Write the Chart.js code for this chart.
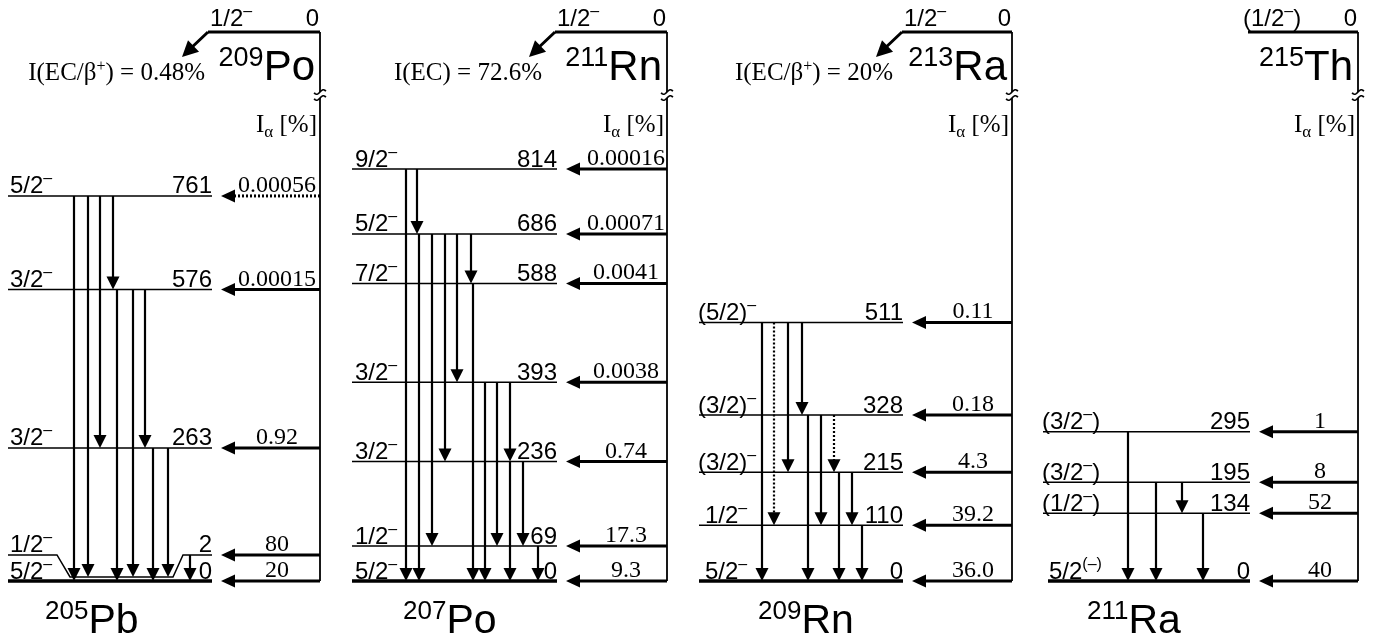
<!DOCTYPE html>
<html>
<head>
<meta charset="utf-8">
<script src="https://cdn.jsdelivr.net/npm/chart.js@4.4.1/dist/chart.umd.min.js"></script>
<style>
  html, body { margin: 0; padding: 0; background: #fff; }
  #wrap { width: 1379px; height: 644px; }
</style>
</head>
<body>
<div id="wrap"><canvas id="scheme"></canvas></div>
<script>
// daughter levels (keV), spins, alpha intensities (%) and gamma transitions [from, to]
const pbEnergies = [761, 576, 263, 2, 0];
const pbSpins = ["5/2^{–}", "3/2^{–}", "3/2^{–}", "1/2^{–}", "5/2^{–}"];
const pbAlpha = ["0.00056", "0.00015", "0.92", "80", "20"];
const pbGammas = [[761, 0], [761, 2], [761, 263], [761, 576], [576, 0], [576, 2], [576, 263], [263, 0], [263, 2], [2, 0]];
const pbWeakAlpha = [761];

const poEnergies = [814, 686, 588, 393, 236, 69, 0];
const poSpins = ["9/2^{–}", "5/2^{–}", "7/2^{–}", "3/2^{–}", "3/2^{–}", "1/2^{–}", "5/2^{–}"];
const poAlpha = ["0.00016", "0.00071", "0.0041", "0.0038", "0.74", "17.3", "9.3"];
const poGammas = [[814, 0], [814, 686], [686, 0], [686, 69], [686, 236], [686, 393], [686, 588], [588, 0], [393, 0], [393, 69], [393, 236], [236, 0], [236, 69], [69, 0]];

const rnEnergies = [511, 328, 215, 110, 0];
const rnSpins = ["(5/2)^{–}", "(3/2)^{–}", "(3/2)^{–}", "1/2^{–}", "5/2^{–}"];
const rnAlpha = ["0.11", "0.18", "4.3", "39.2", "36.0"];
const rnGammas = [[511, 0], [511, 110], [511, 215], [511, 328], [328, 0], [328, 110], [328, 215], [215, 0], [215, 110], [110, 0]];
const rnTentative = [[511, 110], [328, 215]];

const raEnergies = [295, 195, 134, 0];
const raSpins = ["(3/2^{–})", "(3/2^{–})", "(1/2^{–})", "5/2^{(–)}"];
const raAlpha = ["1", "8", "52", "40"];
const raGammas = [[295, 0], [195, 0], [195, 134], [134, 0]];

const parentNames = ["^{209}Po", "^{211}Rn", "^{213}Ra", "^{215}Th"];
const parentSpins = ["1/2^{–}", "1/2^{–}", "1/2^{–}", "(1/2^{–})"];
const ecBranches = ["I(EC/β^{+}) = 0.48%", "I(EC) = 72.6%", "I(EC/β^{+}) = 20%", null];
const daughterNames = ["^{205}Pb", "^{207}Po", "^{209}Rn", "^{211}Ra"];

const panels = [
  { energies: pbEnergies, spins: pbSpins, alpha: pbAlpha, gammas: pbGammas, tentative: [], weakAlpha: pbWeakAlpha, split: 2 },
  { energies: poEnergies, spins: poSpins, alpha: poAlpha, gammas: poGammas, tentative: [], weakAlpha: [] },
  { energies: rnEnergies, spins: rnSpins, alpha: rnAlpha, gammas: rnGammas, tentative: rnTentative, weakAlpha: [] },
  { energies: raEnergies, spins: raSpins, alpha: raAlpha, gammas: raGammas, tentative: [], weakAlpha: [] },
];

// layout (pixels on the x axis, which runs 0..W)
const W = 1379, H = 644;
const PX_PER_KEV = 0.506;
const GROUND_PX = 581;
const PARENT_PX = 32;
const BREAK_PX = 95;
const layout = [
  { left: 8, right: 212, vx: 320, parentLeft: 208, labelX: 10, alphaMid: 277, daughterX: 45, ecRight: 205,
    gammaX: [74, 88, 100, 113, 117, 133, 145, 153, 168, 190], bend: [57, 70, 173, 183] },
  { left: 352, right: 557, vx: 667, parentLeft: 555, labelX: 355, alphaMid: 626, daughterX: 403, ecRight: 542,
    gammaX: [406, 417, 419, 432, 445, 457, 471, 473, 485, 497, 510, 510, 523, 538] },
  { left: 699, right: 903, vx: 1012, parentLeft: 902, labelX: 705, alphaMid: 973, daughterX: 758, ecRight: 893,
    gammaX: [762, 774, 788, 802, 808, 821, 834, 839, 852, 862] },
  { left: 1043, groundLeft: 1048, right: 1250, vx: 1358, parentLeft: 1248, labelX: 1049, alphaMid: 1320, daughterX: 1087,
    gammaX: [1128, 1156, 1182, 1203] },
];
const SPLIT_LABEL_LIFT = 25, SPLIT_LINE_LIFT = 3;
const HEAD = { gLen: 13, gHalf: 6.5, aLen: 14, aHalf: 6.5, eLen: 16, eHalf: 8 };

const SANS = '"Liberation Sans", Arial, sans-serif';
const SERIF = '"Liberation Serif", "Times New Roman", serif';

const yMax = GROUND_PX / PX_PER_KEV;
const yMin = -(H - GROUND_PX) / PX_PER_KEV;
const parentE = yMax - PARENT_PX / PX_PER_KEV;
const lift = (e, px) => e + px / PX_PER_KEV;

// where a level is drawn: the 2 keV level of 205Pb is pulled apart from the ground state
function levelY(p, e, part) {
  if (p.split !== e) return e;
  return part === "line" ? lift(e, SPLIT_LINE_LIFT) : lift(e, SPLIT_LABEL_LIFT);
}

const levelPts = [], groundPts = [], parentPts = [], spinePts = [];
const gammaPts = [], gammaDotPts = [], alphaPts = [], alphaDotPts = [], ecPts = [];
function seg(arr, pts) {
  pts.forEach((q) => arr.push(q));
  arr.push({ x: pts[pts.length - 1].x, y: null });
}
const isTentative = (p, g) => p.tentative.some((t) => t[0] === g[0] && t[1] === g[1]);

panels.forEach((p, i) => {
  const L = layout[i];
  p.energies.forEach((e) => {
    if (e === 0) {
      seg(groundPts, [{ x: L.groundLeft || L.left, y: 0 }, { x: L.right, y: 0 }]);
    } else if (p.split === e) {
      const up = levelY(p, e, "label"), low = levelY(p, e, "line");
      seg(levelPts, [
        { x: L.left, y: up }, { x: L.bend[0], y: up }, { x: L.bend[1], y: low },
        { x: L.bend[2], y: low }, { x: L.bend[3], y: up }, { x: L.right, y: up },
      ]);
    } else {
      seg(levelPts, [{ x: L.left, y: e }, { x: L.right, y: e }]);
    }
    const ya = levelY(p, e, "label");
    const target = p.weakAlpha.includes(e) ? alphaDotPts : alphaPts;
    seg(target, [{ x: L.vx, y: ya }, { x: L.right + 9 + HEAD.aLen / 2, y: ya }]);
  });
  p.gammas.forEach((g, k) => {
    const x = L.gammaX[k];
    const y0 = levelY(p, g[0], "label");
    const y1 = levelY(p, g[1], "line");
    seg(isTentative(p, g) ? gammaDotPts : gammaPts, [{ x: x, y: y0 }, { x: x, y: lift(y1, HEAD.gLen / 2) }]);
  });
  seg(spinePts, [{ x: L.vx, y: parentE }, { x: L.vx, y: 0 }]);
  seg(parentPts, [{ x: L.parentLeft, y: parentE }, { x: L.vx, y: parentE }]);
  if (ecBranches[i]) {
    seg(ecPts, [{ x: L.parentLeft, y: parentE }, { x: L.parentLeft - 19, y: lift(parentE, -18) }]);
  }
});

function richText(ctx, str, x, y, o) {
  const parts = [];
  const re = /([\^_])\{([^}]*)\}/g;
  let last = 0, m;
  while ((m = re.exec(str))) {
    if (m.index > last) parts.push({ t: str.slice(last, m.index), k: "" });
    parts.push({ t: m[2], k: m[1] });
    last = re.lastIndex;
  }
  if (last < str.length) parts.push({ t: str.slice(last), k: "" });
  const font = (k) => (k ? o.small : o.size) + "px " + o.family;
  let total = 0;
  parts.forEach((q) => { ctx.font = font(q.k); q.w = ctx.measureText(q.t).width; total += q.w; });
  let cx = o.align === "right" ? x - total : o.align === "center" ? x - total / 2 : x;
  ctx.textAlign = "left";
  ctx.textBaseline = "alphabetic";
  parts.forEach((q) => {
    ctx.font = font(q.k);
    const dy = q.k === "^" ? -o.rise : q.k === "_" ? o.drop : 0;
    ctx.fillText(q.t, cx, y + dy);
    cx += q.w;
  });
}

function head(ctx, tx, ty, dx, dy, len, half) {
  const n = Math.hypot(dx, dy);
  const ux = dx / n, uy = dy / n;
  const bx = tx - ux * len, by = ty - uy * len;
  ctx.beginPath();
  ctx.moveTo(tx, ty);
  ctx.lineTo(bx - uy * half, by + ux * half);
  ctx.lineTo(bx + uy * half, by - ux * half);
  ctx.closePath();
  ctx.fill();
}

// axis break: gap in the alpha axis with two small tildes
function axisBreak(ctx, cx, cy) {
  ctx.fillStyle = "#fff";
  ctx.fillRect(cx - 3, cy - 3, 6, 6);
  ctx.fillStyle = "#000";
  ctx.lineWidth = 1.6;
  [-3, 3].forEach((d) => {
    ctx.beginPath();
    for (let t = -1; t <= 1.001; t += 0.1) {
      const x = cx + 6 * t;
      const y = cy + d - 1.8 * Math.sin(Math.PI * t) - 0.8 * t;
      if (t === -1) ctx.moveTo(x, y); else ctx.lineTo(x, y);
    }
    ctx.stroke();
  });
}

const LEVEL_TXT = { family: SANS, size: 24, small: 16, rise: 10 };
const SERIF_TXT = { family: SERIF, size: 24, small: 16, rise: 9, drop: 5 };
const NUCLIDE_TXT = { family: SANS, size: 42, small: 27, rise: 14 };

const schemeLabels = {
  id: "schemeLabels",
  afterDatasetsDraw(chart) {
    const ctx = chart.ctx;
    const px = (v) => chart.scales.x.getPixelForValue(v);
    const py = (v) => chart.scales.y.getPixelForValue(v);
    ctx.save();
    ctx.fillStyle = "#000";
    ctx.strokeStyle = "#000";
    panels.forEach((p, i) => {
      const L = layout[i];
      // levels: spin, energy, alpha feeding
      p.energies.forEach((e, k) => {
        const y = py(levelY(p, e, "label"));
        const sx = px(p.spins[k].startsWith("(") ? L.labelX - 7 : L.labelX);
        richText(ctx, p.spins[k], sx, y - 2.5, { ...LEVEL_TXT, align: "left" });
        richText(ctx, String(e), px(L.right), y - 2.5, { ...LEVEL_TXT, align: "right" });
        richText(ctx, p.alpha[k], px(L.alphaMid), y - 4, { ...SERIF_TXT, align: "center" });
        head(ctx, px(L.right + 9), y, -1, 0, HEAD.aLen, HEAD.aHalf);
      });
      // gamma arrowheads
      p.gammas.forEach((g, k) => {
        head(ctx, px(L.gammaX[k]), py(levelY(p, g[1], "line")), 0, 1, HEAD.gLen, HEAD.gHalf);
      });
      // parent
      const yp = py(parentE);
      richText(ctx, parentSpins[i], px(parentSpins[i].startsWith("(") ? L.parentLeft - 5 : L.parentLeft + 2), yp - 6, { ...LEVEL_TXT, align: "left" });
      richText(ctx, "0", px(L.vx - 1), yp - 6, { ...LEVEL_TXT, align: "right" });
      richText(ctx, parentNames[i], px(L.vx - 5), 80, { ...NUCLIDE_TXT, align: "right" });
      if (ecBranches[i]) {
        head(ctx, px(L.parentLeft - 26), py(lift(parentE, -25)), -26, 25, HEAD.eLen, HEAD.eHalf);
        richText(ctx, ecBranches[i], px(L.ecRight), 80, { ...SERIF_TXT, size: 25, align: "right" });
      }
      axisBreak(ctx, px(L.vx), BREAK_PX);
      richText(ctx, "I_{α} [%]", px(L.vx - 3), 132, { ...SERIF_TXT, size: 25, small: 17, align: "right" });
      richText(ctx, daughterNames[i], px(L.daughterX), 633, { ...NUCLIDE_TXT, size: 41, small: 26, align: "left" });
    });
    ctx.restore();
  },
};

const line = (label, data, width, dash) => ({
  label: label, data: data, borderColor: "#000", borderWidth: width,
  borderDash: dash || [], pointRadius: 0, spanGaps: false, fill: false, tension: 0,
});

new Chart(document.getElementById("scheme"), {
  type: "line",
  data: {
    datasets: [
      line("levels", levelPts, 1.5),
      line("ground states", groundPts, 3.5),
      line("parent states", parentPts, 3),
      line("alpha axis", spinePts, 1.8),
      line("gamma", gammaPts, 2.2),
      line("gamma (tentative)", gammaDotPts, 2.2, [2, 2]),
      line("alpha", alphaPts, 3),
      line("alpha (weak)", alphaDotPts, 3, [2, 2]),
      line("EC", ecPts, 3),
    ],
  },
  options: {
    responsive: true,
    maintainAspectRatio: false,
    animation: false,
    layout: { padding: 0 },
    scales: {
      x: { type: "linear", min: 0, max: W, display: false },
      y: { type: "linear", min: yMin, max: yMax, display: false },
    },
    plugins: { legend: { display: false }, tooltip: { enabled: false } },
  },
  plugins: [schemeLabels],
});
</script>
</body>
</html>
